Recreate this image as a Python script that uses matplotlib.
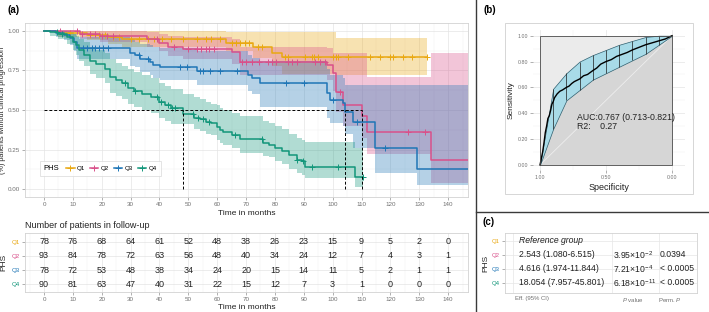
import numpy as np
import matplotlib
matplotlib.use('Agg')
import matplotlib.pyplot as plt
from matplotlib.lines import Line2D
from matplotlib.patches import Rectangle, Polygon
from matplotlib.offsetbox import HPacker
from matplotlib.ticker import MultipleLocator, FormatStrFormatter

plt.rcParams['font.family'] = ['Liberation Sans', 'DejaVu Sans']
plt.rcParams['mathtext.fontset'] = 'custom'
plt.rcParams['mathtext.rm'] = 'Liberation Sans'
plt.rcParams['mathtext.it'] = 'Liberation Sans:italic'

W, H = 709, 312

groups = ['Q1', 'Q2', 'Q3', 'Q4']
colors = ['#E9A812', '#D9508A', '#1F76B6', '#12967A']

# Kaplan-Meier steps (time, survival, lower CI, upper CI), censor times, last follow-up
q1_t = [0, 5, 15, 22, 27, 63, 72.5, 79, 82.3, 101]
q1_s = [1.0, 0.987, 0.974, 0.961, 0.947, 0.926, 0.90, 0.863, 0.833, 0.833]
q1_lo = [1.0, 0.96, 0.94, 0.92, 0.90, 0.87, 0.83, 0.78, 0.73, 0.72]
q1_hi = [1.0, 1.0, 1.0, 1.0, 1.0, 0.995, 0.99, 0.99, 0.99, 0.958]
q1_end = 132.6
q1_cens = [9, 16, 19, 21, 24, 26, 30, 33, 36, 38, 41, 44, 48, 53, 56, 58, 61, 65, 66.5, 68,
           69.5, 71, 74, 75.5, 83.5, 84.5, 90.5, 92.8, 93.5, 95, 100, 101, 102, 105.3, 113,
           116.4, 120, 121, 124.4, 127.5, 132.6]

q2_t = [0, 12.5, 19.4, 35.6, 40, 43, 48, 65, 67.9, 98, 100.2, 101.3, 103.5, 110.1, 111.8, 134]
q2_s = [1.0, 0.979, 0.968, 0.947, 0.922, 0.90, 0.885, 0.865, 0.806, 0.785, 0.732, 0.616, 0.53,
        0.46, 0.363, 0.184]
q2_lo = [1.0, 0.95, 0.93, 0.90, 0.87, 0.84, 0.82, 0.79, 0.72, 0.69, 0.62, 0.49, 0.40, 0.32,
         0.22, 0.04]
q2_hi = [1.0, 1.0, 1.0, 0.99, 0.98, 0.97, 0.96, 0.95, 0.90, 0.89, 0.86, 0.86, 0.86, 0.86,
         0.71, 0.86]
q2_end = 147
q2_cens = [5.5, 11.3, 13, 16, 17.7, 20, 21.7, 24, 39, 45, 50, 53, 54.5, 56, 57, 59, 68.5, 70,
           72, 74.5, 77.6, 79, 80.5, 84.5, 86, 87.6, 94, 95.5, 97.4, 102.5, 126, 132]

q3_t = [0, 4, 7, 9, 10.5, 11.5, 29.8, 31.5, 33.3, 36.7, 37.9, 40.2, 52.9, 70.8, 72, 74.8, 98,
        99.1, 103.7, 104.3, 107.2, 114.7, 129.1]
q3_s = [1.0, 0.987, 0.974, 0.955, 0.93, 0.89, 0.858, 0.847, 0.82, 0.806, 0.785, 0.774, 0.749,
        0.722, 0.70, 0.669, 0.606, 0.563, 0.542, 0.49, 0.426, 0.257, 0.127]
q3_lo = [1.0, 0.96, 0.94, 0.91, 0.87, 0.82, 0.78, 0.77, 0.74, 0.72, 0.70, 0.69, 0.66, 0.62,
         0.60, 0.52, 0.45, 0.42, 0.40, 0.35, 0.26, 0.10, 0.025]
q3_hi = [1.0, 1.0, 1.0, 0.99, 0.98, 0.96, 0.94, 0.93, 0.92, 0.91, 0.90, 0.89, 0.87, 0.85, 0.83,
         0.81, 0.76, 0.72, 0.70, 0.66, 0.66, 0.66, 0.66]
q3_end = 147
q3_cens = [13.5, 15, 16.5, 17.5, 19, 20.5, 22, 33, 36, 47, 49.5, 54, 55, 57.5, 61, 67, 84, 90,
           100, 108.5, 118]

q4_t = [0, 2, 5, 8, 10, 11, 12, 14, 16, 18, 21, 23, 25, 27, 29, 31, 34, 37, 40, 42, 44, 48, 52,
        54, 56, 58, 60, 61, 62, 65, 68, 76, 78, 80, 82.5, 85, 87.5, 89.5, 90.5, 107.8]
q4_s = [1.0, 0.99, 0.978, 0.96, 0.93, 0.91, 0.88, 0.85, 0.81, 0.79, 0.76, 0.71, 0.69, 0.67,
        0.64, 0.62, 0.60, 0.58, 0.55, 0.53, 0.51, 0.475, 0.45, 0.44, 0.425, 0.415, 0.395, 0.375,
        0.36, 0.34, 0.315, 0.29, 0.28, 0.26, 0.24, 0.215, 0.185, 0.175, 0.14, 0.074]
q4_lo = [1.0, 0.97, 0.95, 0.92, 0.88, 0.85, 0.81, 0.78, 0.73, 0.70, 0.67, 0.61, 0.59, 0.57,
         0.54, 0.52, 0.50, 0.48, 0.45, 0.43, 0.41, 0.41, 0.38, 0.37, 0.35, 0.34, 0.31, 0.29,
         0.28, 0.26, 0.23, 0.21, 0.20, 0.175, 0.16, 0.13, 0.10, 0.09, 0.068, 0.015]
q4_hi = [1.0, 1.0, 1.0, 0.99, 0.98, 0.97, 0.95, 0.93, 0.90, 0.88, 0.86, 0.82, 0.80, 0.78, 0.76,
         0.74, 0.72, 0.70, 0.67, 0.65, 0.63, 0.60, 0.58, 0.57, 0.55, 0.54, 0.53, 0.51, 0.50,
         0.48, 0.46, 0.43, 0.42, 0.40, 0.38, 0.35, 0.32, 0.31, 0.30, 0.26]
q4_end = 110.6
q4_cens = [4.4, 6.1, 28, 31.5, 39, 40.5, 43, 44.5, 45.5, 51.7, 53.5, 55, 57, 66, 75.5, 87.6,
           89.8, 92.7, 102, 110.6]

med_times = [110.1, 104.3, 48.0]

risk_times = list(range(0, 150, 10))
risk_q1 = [78, 76, 68, 64, 61, 52, 48, 38, 26, 23, 15, 9, 5, 2, 0]
risk_q2 = [93, 84, 78, 72, 63, 56, 48, 40, 34, 24, 12, 7, 4, 3, 1]
risk_q3 = [78, 72, 53, 48, 38, 34, 24, 20, 15, 14, 11, 5, 2, 1, 1]
risk_q4 = [90, 81, 63, 47, 40, 31, 22, 15, 12, 7, 3, 1, 0, 0, 0]

# ROC curve
roc_spec = [1.0, 0.99, 0.98, 0.97, 0.96, 0.95, 0.94, 0.93, 0.92, 0.91, 0.90, 0.89, 0.87, 0.85,
            0.83, 0.80, 0.78, 0.76, 0.74, 0.72, 0.70, 0.67, 0.64, 0.60, 0.57, 0.54, 0.50, 0.46,
            0.42, 0.38, 0.34, 0.30, 0.25, 0.20, 0.15, 0.10, 0.05, 0.0]
roc_sens = [0.0, 0.05, 0.10, 0.17, 0.25, 0.30, 0.36, 0.38, 0.42, 0.47, 0.49, 0.52, 0.55, 0.57,
            0.58, 0.60, 0.61, 0.63, 0.645, 0.655, 0.665, 0.69, 0.70, 0.73, 0.75, 0.78, 0.80,
            0.815, 0.84, 0.855, 0.87, 0.89, 0.91, 0.93, 0.945, 0.96, 0.975, 1.0]
ci_spec = [1.0, 0.9, 0.8, 0.7, 0.6, 0.5, 0.4, 0.3, 0.2, 0.1, 0.0]
ci_lo = [0.0, 0.28, 0.50, 0.58, 0.66, 0.71, 0.76, 0.81, 0.86, 0.93, 1.0]
ci_hi = [0.0, 0.59, 0.71, 0.80, 0.85, 0.89, 0.93, 0.96, 0.99, 1.0, 1.0]

# table (c)
eff = ['Reference group', '2.543 (1.080-6.515)', '4.616 (1.974-11.844)', '18.054 (7.957-45.801)']
pval = ['', r'3.95×10$^{-2}$', r'7.21×10$^{-4}$', r'6.18×10$^{-11}$']
perm = ['', '0.0394', '< 0.0005', '< 0.0005']


def box(l, t, w, h):
    return [l / W, 1 - (t + h) / H, w / W, h / H]


def surv_at(times, surv, x):
    idx = np.searchsorted(times, x, side='right') - 1
    return np.array(surv)[idx]


def style_panel(ax):
    ax.set_facecolor('white')
    for sp in ax.spines.values():
        sp.set_color('#d2d2d2')
        sp.set_linewidth(0.6)
    ax.grid(True, which='major', color='#e4e4e4', lw=0.5)
    ax.grid(True, which='minor', color='#f1f1f1', lw=0.35)
    ax.set_axisbelow(True)
    ax.tick_params(which='major', labelsize=4.5, labelcolor='#707070', color='#909090',
                   length=2, width=0.5, pad=1.5)
    ax.tick_params(which='minor', length=0)


fig = plt.figure(figsize=(W / 100, H / 100), dpi=100)

# ---- (a) KM curves
ax = fig.add_axes(box(25, 23, 443, 174))
style_panel(ax)
km = [(q1_t, q1_s, q1_lo, q1_hi, q1_end, q1_cens),
      (q2_t, q2_s, q2_lo, q2_hi, q2_end, q2_cens),
      (q3_t, q3_s, q3_lo, q3_hi, q3_end, q3_cens),
      (q4_t, q4_s, q4_lo, q4_hi, q4_end, q4_cens)]
for (t, s, lo, hi, end, cens), c in zip(km, colors):
    tt = list(t) + [end]
    ax.fill_between(tt, list(lo) + [lo[-1]], list(hi) + [hi[-1]], step='post',
                    color=c, alpha=0.33, lw=0)
for (t, s, lo, hi, end, cens), c in zip(km, colors):
    tt = list(t) + [end]
    ax.step(tt, list(s) + [s[-1]], where='post', color=c, lw=1.1)
    ax.plot(cens, surv_at(t, s, cens), ls='none', marker='+', ms=4, mew=0.7, color=c)

ax.plot([0, max(med_times)], [0.5, 0.5], color='black', ls=(0, (3, 2)), lw=0.7)
for m in med_times:
    ax.plot([m, m], [0, 0.5], color='black', ls=(0, (3, 2)), lw=0.7)

ax.set_xlim(-6.6, 146.9)
ax.set_ylim(-0.05, 1.05)
ax.xaxis.set_major_locator(MultipleLocator(10))
ax.xaxis.set_minor_locator(MultipleLocator(5))
ax.yaxis.set_major_locator(MultipleLocator(0.25))
ax.yaxis.set_minor_locator(MultipleLocator(0.125))
ax.yaxis.set_major_formatter(FormatStrFormatter('%.2f'))
ax.set_xlabel('Time in months', fontsize=6, labelpad=2, color='#222222')
ax.set_ylabel('(%) patients without clinical progression', fontsize=5.2, color='#222222')
ax.yaxis.set_label_coords(-0.042, 0.5)

handles = [Line2D([], [], color=c, marker='+', lw=1.1, ms=4, mew=0.7) for c in colors]
leg = ax.legend(handles, groups, title='PHS', ncol=4, loc='lower left',
                bbox_to_anchor=(0.034, 0.121), borderaxespad=0, fontsize=4.5,
                title_fontsize=5.5, frameon=True, fancybox=False, handlelength=1.3,
                columnspacing=0.8, handletextpad=0.4, borderpad=0.6)
leg.get_frame().set_edgecolor('#d8d8d8')
leg.get_frame().set_linewidth(0.6)
try:
    lb = leg._legend_box
    newbox = HPacker(pad=lb.pad, sep=5, align='center',
                     children=[leg._legend_title_box, leg._legend_handle_box])
    newbox.set_figure(fig)
    newbox.axes = ax
    leg._legend_box = newbox
    leg._set_loc(leg._loc)
except Exception:
    pass

# ---- risk table
ax2 = fig.add_axes(box(25, 233, 443, 59))
style_panel(ax2)
for i, row in enumerate([risk_q1, risk_q2, risk_q3, risk_q4]):
    for x, n in zip(risk_times, row):
        ax2.text(x, 4 - i, str(n), ha='center', va='center', fontsize=6.5, color='#222222')
ax2.set_xlim(-6.6, 146.9)
ax2.set_ylim(0.46, 4.61)
ax2.xaxis.set_major_locator(MultipleLocator(10))
ax2.xaxis.set_minor_locator(MultipleLocator(5))
ax2.set_yticks([4, 3, 2, 1])
ax2.set_yticklabels(groups)
for lab, c in zip(ax2.get_yticklabels(), colors):
    lab.set_color(c)
ax2.set_xlabel('Time in months', fontsize=6, labelpad=1.5, color='#222222')
ax2.set_ylabel('PHS', fontsize=6, labelpad=3, color='#222222')
fig.text(25 / W, 1 - 226 / H, 'Number of patients in follow-up', fontsize=6.5,
         color='#222222', va='center', ha='left')

# ---- (b) ROC
ax3 = fig.add_axes(box(533, 30, 152, 140))
style_panel(ax3)
for sp in ax3.spines.values():
    sp.set_visible(False)
ax3.set_xlim(1.053, -0.098)
ax3.set_ylim(-0.039, 1.044)
ax3.set_xticks([1.0, 0.5, 0.0])
ax3.set_xticklabels(['1.00', '0.50', '0.00'])
ax3.set_yticks([0, 0.2, 0.4, 0.6, 0.8, 1.0])
ax3.set_yticklabels(['0.00', '0.20', '0.40', '0.60', '0.80', '1.00'])
ax3.xaxis.set_minor_locator(MultipleLocator(0.25))
ax3.yaxis.set_minor_locator(MultipleLocator(0.1))
ax3.tick_params(which='major', labelsize=3.8)
ax3.add_patch(Rectangle((0, 0), 1, 1, facecolor='#ebebeb', edgecolor='none', zorder=1))
under = list(zip(roc_spec, roc_sens)) + [(0.0, 0.0)]
ax3.add_patch(Polygon(under, closed=True, facecolor='#d6d6d6', edgecolor='none', zorder=1.5))
ax3.add_patch(Rectangle((0, 0), 1, 1, facecolor='none', edgecolor='#4a4a4a', lw=0.6, zorder=4))
ax3.plot([1, 0], [0, 1], color='#eeeeee', lw=0.6, zorder=2)
ax3.fill_between(ci_spec, ci_lo, ci_hi, facecolor='#a8dbe8', edgecolor='#2f5f6f', lw=0.5,
                 zorder=2.5)
ax3.vlines(ci_spec[1:-1], ci_lo[1:-1], ci_hi[1:-1], color='#1a1a1a', lw=0.5, zorder=3)
ax3.plot(roc_spec, roc_sens, color='black', lw=1.0, zorder=3.5)
ax3.text(0.72, 0.35, 'AUC:0.767 (0.713-0.821)', fontsize=6.3, color='#222222', zorder=5)
ax3.text(0.72, 0.28, 'R2:    0.27', fontsize=6.3, color='#222222', zorder=5)
ax3.set_xlabel('Specificity', fontsize=6.5, labelpad=2, color='#222222')
ax3.set_ylabel('Sensitivity', fontsize=6, labelpad=2, color='#222222')
fig.add_artist(Rectangle((505 / W, 1 - 194 / H), 188 / W, 171 / H, transform=fig.transFigure,
                         fill=False, edgecolor='#d0d0d0', lw=0.6))

# ---- (c) table
ax4 = fig.add_axes(box(505, 233, 192, 60))
ax4.set_facecolor('white')
for sp in ax4.spines.values():
    sp.set_color('#d2d2d2')
    sp.set_linewidth(0.6)
ax4.set_xlim(0, 1)
ax4.set_ylim(0.26, 4.55)
for y in [4, 3, 2, 1]:
    ax4.axhline(y, color='#e6e6e6', lw=0.5, zorder=0)
for x in [0.042, 0.557, 0.802]:
    ax4.axvline(x, color='#e6e6e6', lw=0.5, zorder=0)
for i in range(4):
    y = 4 - i
    ax4.text(0.073, y, eff[i], fontsize=6.2, va='center', ha='left', color='#222222',
             style='italic' if i == 0 else 'normal')
    ax4.text(0.563, y, pval[i], fontsize=6.2, va='center', ha='left', color='#222222')
    ax4.text(0.807, y, perm[i], fontsize=6.2, va='center', ha='left', color='#222222')
ax4.set_yticks([4, 3, 2, 1])
ax4.set_yticklabels(groups)
for lab, c in zip(ax4.get_yticklabels(), colors):
    lab.set_color(c)
ax4.set_xticks([0.14, 0.667, 0.859])
ax4.set_xticklabels(['Eff. (95% CI)', '$P$ value', 'Perm. $P$'])
ax4.tick_params(axis='x', length=0, labelsize=4.3, labelcolor='#707070', pad=2)
ax4.tick_params(axis='y', length=2, width=0.5, color='#909090', labelsize=4.3, pad=1.5)
ax4.set_ylabel('PHS', fontsize=6, labelpad=2, color='#222222')

# panel labels and separators
fig.text(8 / W, 1 - 10 / H, '(a)', fontsize=7, fontweight='bold', va='center')
fig.text(483 / W, 1 - 10 / H, '(b)', fontsize=7, fontweight='bold', va='center')
fig.text(482 / W, 1 - 222 / H, '(c)', fontsize=7, fontweight='bold', va='center')
fig.add_artist(Line2D([476 / W, 476 / W], [0, 1], transform=fig.transFigure,
                      color='#3a3a3a', lw=1.0))
fig.add_artist(Line2D([476 / W, 1], [1 - 212 / H, 1 - 212 / H], transform=fig.transFigure,
                      color='#3a3a3a', lw=1.0))

fig.savefig('out.png', dpi=100)
